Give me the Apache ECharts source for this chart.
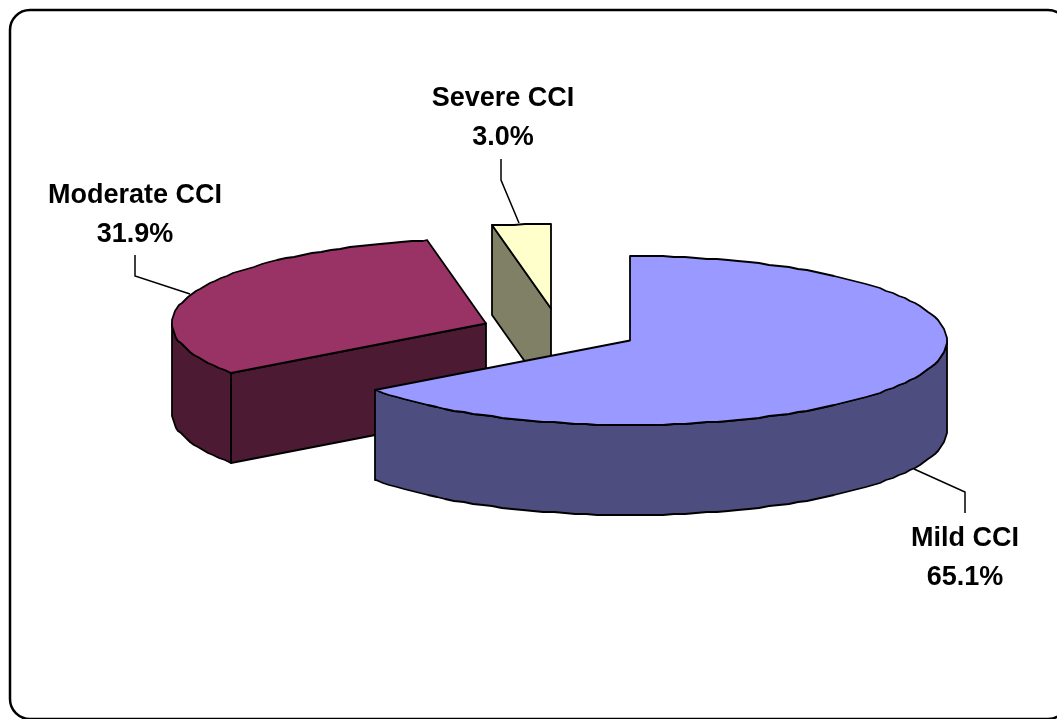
<!DOCTYPE html>
<html>
<head>
<meta charset="utf-8">
<title>CCI severity</title>
<style>
html, body { margin: 0; padding: 0; background: #fff; overflow: hidden; }
#chart { width: 1057px; height: 719px; }
</style>
<script src="https://cdn.jsdelivr.net/npm/echarts@6/dist/echarts.min.js"></script>
</head>
<body>
<div id="chart"></div>
<script>
// data
var categories = ['Mild CCI', 'Moderate CCI', 'Severe CCI'];
var percents = [65.1, 31.9, 3.0];

// colours, same order as categories
var topColors = ['#9999FF', '#993366', '#FFFFCC'];
var sideColors = ['#4D4D80', '#4D1A33', '#808066'];

// layout of the fake 3d pie: apex of each exploded slice, ellipse radii, wall height
// the left half of the ellipse is a little narrower than the right one in the original
var apexes = [[630, 340.5], [486, 323.5], [551, 308.5]];
var radiusRight = 317;
var radiusLeft = 314;
var radiusY = 84.5;
var wallHeight = 90;

// label centres and leader lines
var labelCenters = [[965, 558], [135, 215], [503, 118]];
var leaders = [
    [[914, 469], [965, 492], [965, 513]],
    [[190, 294], [135, 276], [135, 255]],
    [[519, 223], [501, 180], [501, 159]]
];

// slices start at 12 o'clock and go clockwise, moderate and severe have to be drawn first
var drawOrder = [1, 2, 0];

var total = percents.reduce(function(a, b) { return a + b; }, 0);
var startAngles = [];
var running = 0;
for (var i = 0; i < percents.length; i++) {
    startAngles.push(running);
    running += percents[i] / total * 360;
}

function rimPoint(apex, deg, drop) {
    var t = deg * Math.PI / 180;
    var s = Math.sin(t);
    return [
        Math.round(apex[0] + (s < 0 ? radiusLeft : radiusRight) * s),
        Math.round(apex[1] - radiusY * Math.cos(t) + (drop || 0))
    ];
}

function arcPoints(apex, from, to, drop) {
    var pts = [];
    var step = 2;
    for (var d = from; d < to; d += step) {
        pts.push(rimPoint(apex, d, drop));
    }
    pts.push(rimPoint(apex, to, drop));
    return pts;
}

function poly(points, fill) {
    return {
        type : 'polygon',
        shape : { points : points },
        style : { fill : fill, stroke : '#000', lineWidth : 1.8, lineJoin : 'round' }
    };
}

function renderSlice(params, api) {
    var idx = api.value(0);
    var apex = apexes[idx];
    var from = startAngles[idx];
    var to = from + percents[idx] / total * 360;
    var children = [];

    // cut face, only visible when it looks down towards the viewer
    var p = rimPoint(apex, from);
    if (p[0] < apex[0]) {
        children.push(poly([apex, p, [p[0], p[1] + wallHeight], [apex[0], apex[1] + wallHeight]], sideColors[idx]));
    }

    // outer wall, front half of the ellipse only
    var wallFrom = Math.max(from, 90);
    var wallTo = Math.min(to, 270);
    if (wallFrom < wallTo) {
        var upper = arcPoints(apex, wallFrom, wallTo, 0);
        var lower = arcPoints(apex, wallFrom, wallTo, wallHeight).reverse();
        children.push(poly(upper.concat(lower), sideColors[idx]));
    }

    // top
    children.push(poly([apex].concat(arcPoints(apex, from, to, 0)), topColors[idx]));

    // leader + label
    children.push({
        type : 'polyline',
        shape : { points : leaders[idx] },
        style : { fill : null, stroke : '#000', lineWidth : 1.5 }
    });
    children.push({
        type : 'text',
        style : {
            x : labelCenters[idx][0],
            y : labelCenters[idx][1],
            text : categories[idx] + '\n' + percents[idx].toFixed(1) + '%',
            align : 'center',
            verticalAlign : 'middle',
            fill : '#000',
            font : 'bold 27px "Liberation Sans", Arial, sans-serif',
            lineHeight : 39
        }
    });
    return { type : 'group', children : children };
}

var chart = echarts.init(document.getElementById('chart'), null, { renderer : 'canvas' });
chart.setOption({
    animation : false,
    backgroundColor : '#fff',
    // frame runs off the right and bottom of the picture
    graphic : [ {
        type : 'rect',
        shape : { x : 10, y : 10, width : 1058, height : 709, r : 20 },
        style : { fill : null, stroke : '#000', lineWidth : 2.5 },
        silent : true,
        z : 10
    } ],
    series : [ {
        type : 'custom',
        coordinateSystem : 'none',
        silent : true,
        renderItem : renderSlice,
        data : drawOrder.map(function(k) { return [k, percents[k]]; })
    } ]
});
</script>
</body>
</html>
